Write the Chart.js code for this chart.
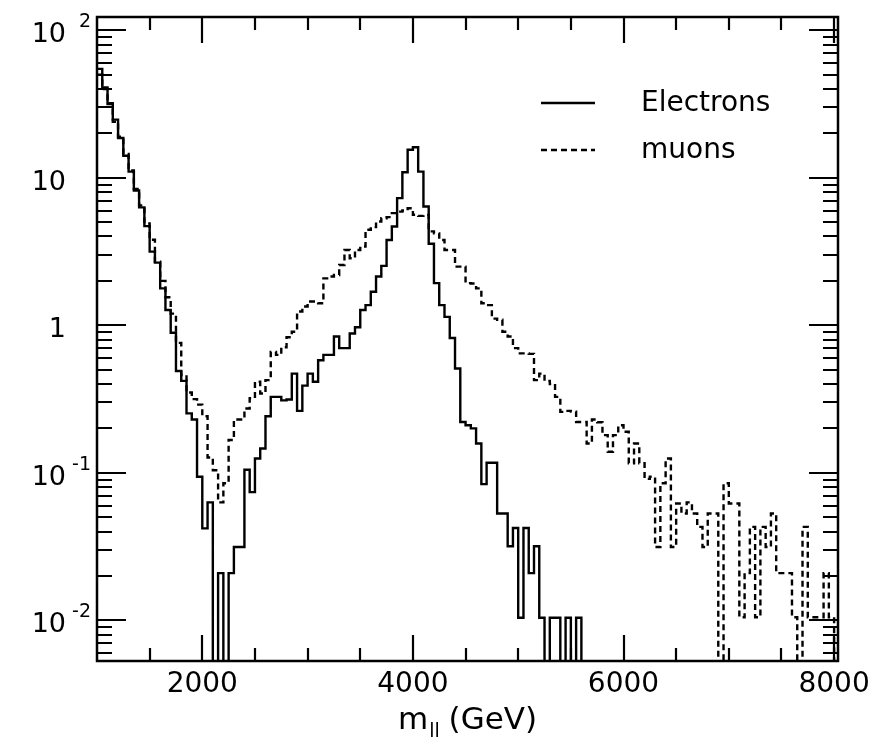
<!DOCTYPE html>
<html>
<head>
<meta charset="utf-8">
<script src="https://cdn.jsdelivr.net/npm/chart.js@4.4.0/dist/chart.umd.min.js"></script>
<style>
  html, body { margin: 0; padding: 0; background: #fff; }
</style>
</head>
<body>
<canvas id="massChart" width="893" height="742"></canvas>
<script>
// histogram binning (GeV)
const binStart = 1000;
const binWidth = 50;

// bin contents, one per 50 GeV bin from 1000 to 8000
const electrons = [
  54.7, 41.0, 31.6, 24.8, 18.6, 14.1, 11.0, 8.2, 6.3, 4.7,
  3.16, 2.66, 1.78, 1.27, 0.89, 0.49, 0.42, 0.253, 0.23, 0.094,
  0.042, 0.063, 0, 0.0209, 0, 0.0209, 0.0314, 0.0314, 0.105, 0.074,
  0.125, 0.146, 0.242, 0.327, 0.327, 0.31, 0.314, 0.47, 0.263, 0.39,
  0.47, 0.414, 0.58, 0.63, 0.63, 0.84, 0.70, 0.70, 0.88, 0.97,
  1.27, 1.37, 1.69, 2.14, 2.53, 3.79, 4.67, 7.28, 10.9, 15.5,
  16.1, 11.0, 6.38, 3.57, 1.93, 1.37, 1.14, 0.82, 0.51, 0.221,
  0.21, 0.2, 0.158, 0.0838, 0.117, 0.117, 0.053, 0.053, 0.0318, 0.0423,
  0.0104, 0.0423, 0.0209, 0.0318, 0.0104, 0, 0.0104, 0.0104, 0, 0.0104,
  0, 0.0104, 0, 0, 0, 0, 0, 0, 0, 0,
  0, 0, 0, 0, 0, 0, 0, 0, 0, 0,
  0, 0, 0, 0, 0, 0, 0, 0, 0, 0,
  0, 0, 0, 0, 0, 0, 0, 0, 0, 0,
  0, 0, 0, 0, 0, 0, 0, 0, 0, 0
];

const muons = [
  50, 40, 32, 24, 19, 14.5, 11.2, 8.4, 6.5, 4.9,
  3.8, 2.7, 2.0, 1.55, 1.2, 0.76, 0.46, 0.35, 0.316, 0.29,
  0.242, 0.127, 0.104, 0.063, 0.085, 0.167, 0.23, 0.23, 0.273, 0.32,
  0.414, 0.345, 0.425, 0.66, 0.63, 0.71, 0.83, 0.905, 1.24, 1.34,
  1.45, 1.45, 1.41, 2.08, 2.14, 2.19, 2.56, 3.24, 2.85, 3.24,
  3.42, 4.44, 4.63, 5.05, 5.32, 5.41, 5.76, 5.9, 6.0, 6.22,
  5.61, 5.52, 5.6, 4.33, 4.2, 3.79, 3.24, 3.24, 2.5, 2.5,
  1.93, 1.92, 1.78, 1.41, 1.37, 1.11, 1.09, 0.905, 0.84, 0.70,
  0.645, 0.645, 0.64, 0.425, 0.47, 0.42, 0.40, 0.327, 0.259, 0.263,
  0.26, 0.221, 0.221, 0.158, 0.23, 0.22, 0.18, 0.139, 0.18, 0.21,
  0.19, 0.116, 0.158, 0.116, 0.091, 0.094, 0.0314, 0.085, 0.125, 0.0314,
  0.062, 0.053, 0.063, 0.053, 0.043, 0.0314, 0.053, 0.053, 0, 0.085,
  0.062, 0.062, 0.0105, 0.0209, 0.043, 0.0105, 0.043, 0.0314, 0.053, 0.0209,
  0.0209, 0.0209, 0.0105, 0, 0.043, 0.0105, 0.0105, 0.0105, 0.0209, 0.0105
];

const seriesNames = ['Electrons', 'muons'];
const xTickLabels = [2000, 4000, 6000, 8000];
const yDecades = [-2, -1, 0, 1, 2];

const X_MIN = 1000, X_MAX = 8037;
const Y_MIN = 0.0053, Y_MAX = 123;
const FLOOR = 1e-3; // empty bins drop below the axis

function stepPoints(values) {
  const pts = values.map((v, i) => ({ x: binStart + i * binWidth, y: v > 0 ? v : FLOOR }));
  pts.push({ x: binStart + values.length * binWidth, y: FLOOR });
  return pts;
}

const FONT = '"DejaVu Sans", sans-serif';

const framePlugin = {
  id: 'frame',
  afterDatasetsDraw(chart) {
    const ctx = chart.ctx;
    const { left, right, top, bottom } = chart.chartArea;
    const xs = chart.scales.x, ys = chart.scales.y;
    ctx.save();
    ctx.strokeStyle = '#000';
    ctx.fillStyle = '#000';
    ctx.lineWidth = 2.5;
    ctx.setLineDash([]);
    ctx.strokeRect(left, top, right - left, bottom - top);

    // inward ticks on all four sides
    ctx.lineWidth = 2.2;
    ctx.beginPath();
    xs.ticks.forEach(t => {
      const px = Math.round(xs.getPixelForValue(t.value));
      if (px <= left + 1 || px >= right - 1) return;
      const len = t.major ? 26 : 13;
      ctx.moveTo(px, bottom); ctx.lineTo(px, bottom - len);
      ctx.moveTo(px, top); ctx.lineTo(px, top + len);
    });
    ys.ticks.forEach(t => {
      const py = Math.round(ys.getPixelForValue(t.value));
      if (py < top || py > bottom) return;
      const len = t.major ? 29 : 15;
      ctx.moveTo(left, py); ctx.lineTo(left + len, py);
      ctx.moveTo(right, py); ctx.lineTo(right - len, py);
    });
    ctx.stroke();

    // x labels
    ctx.font = '28px ' + FONT;
    ctx.textAlign = 'center';
    ctx.textBaseline = 'alphabetic';
    xTickLabels.forEach(v => {
      ctx.fillText(String(v), xs.getPixelForValue(v), bottom + 31);
    });

    // y labels, 10 with superscript exponent
    yDecades.forEach(e => {
      const py = ys.getPixelForValue(Math.pow(10, e));
      ctx.textAlign = 'right';
      ctx.font = '27px ' + FONT;
      const base = e === 0 ? '1' : '10';
      ctx.fillText(base, 66, py + 12);
      if (e !== 0 && e !== 1) {
        ctx.font = '19px ' + FONT;
        ctx.fillText(e < 0 ? '-' + (-e) : String(e), 91, py - 3);
      }
    });

    // axis title m_ll (GeV)
    ctx.textAlign = 'left';
    ctx.font = '31px ' + FONT;
    const cx = (left + right) / 2;
    const mW = ctx.measureText('m').width;
    ctx.font = '19px ' + FONT;
    const subW = ctx.measureText('ll').width;
    ctx.font = '31px ' + FONT;
    const restW = ctx.measureText(' (GeV)').width;
    let x0 = cx - (mW + subW + restW) / 2;
    const by = 729;
    ctx.fillText('m', x0, by);
    ctx.font = '19px ' + FONT;
    ctx.fillText('ll', x0 + mW + 1, by + 8);
    ctx.font = '31px ' + FONT;
    ctx.fillText(' (GeV)', x0 + mW + subW, by);

    // legend
    ctx.font = '28px ' + FONT;
    ctx.textBaseline = 'middle';
    chart.data.datasets.forEach((ds, i) => {
      const ly = 103 + i * 47;
      ctx.setLineDash(ds.borderDash || []);
      ctx.lineWidth = ds.borderWidth;
      ctx.beginPath();
      ctx.moveTo(541, ly); ctx.lineTo(595, ly);
      ctx.stroke();
      ctx.setLineDash([]);
      ctx.fillText(ds.label, 641, ly + 1);
    });
    ctx.restore();
  }
};

new Chart(document.getElementById('massChart'), {
  type: 'line',
  data: {
    datasets: [
      {
        label: seriesNames[0],
        data: stepPoints(electrons),
        borderColor: '#000',
        borderWidth: 2.4,
        stepped: true,
        pointRadius: 0,
        fill: false
      },
      {
        label: seriesNames[1],
        data: stepPoints(muons),
        borderColor: '#000',
        borderWidth: 2.4,
        borderDash: [6, 4],
        stepped: true,
        pointRadius: 0,
        fill: false
      }
    ]
  },
  options: {
    responsive: false,
    animation: false,
    devicePixelRatio: 1,
    layout: { padding: { top: 17, right: 55, left: 0, bottom: 0 } },
    plugins: { legend: { display: false }, tooltip: { enabled: false } },
    scales: {
      x: {
        type: 'linear',
        min: X_MIN,
        max: X_MAX,
        bounds: 'data',
        afterBuildTicks: axis => {
          const t = [];
          for (let v = 1000; v <= 8000; v += 500) t.push({ value: v, major: v % 2000 === 0 });
          axis.ticks = t;
        },
        afterFit: axis => { axis.height = 81; },
        ticks: { display: false },
        grid: { display: false },
        border: { display: false }
      },
      y: {
        type: 'logarithmic',
        min: Y_MIN,
        max: Y_MAX,
        bounds: 'data',
        afterBuildTicks: axis => {
          const t = [];
          for (let e = -3; e <= 2; e++) {
            for (let m = 1; m <= 9; m++) {
              const v = m * Math.pow(10, e);
              if (v >= Y_MIN && v <= Y_MAX) t.push({ value: v, major: m === 1 });
            }
          }
          axis.ticks = t;
        },
        afterFit: axis => { axis.width = 97; },
        ticks: { display: false },
        grid: { display: false },
        border: { display: false }
      }
    }
  },
  plugins: [framePlugin]
});
</script>
</body>
</html>
